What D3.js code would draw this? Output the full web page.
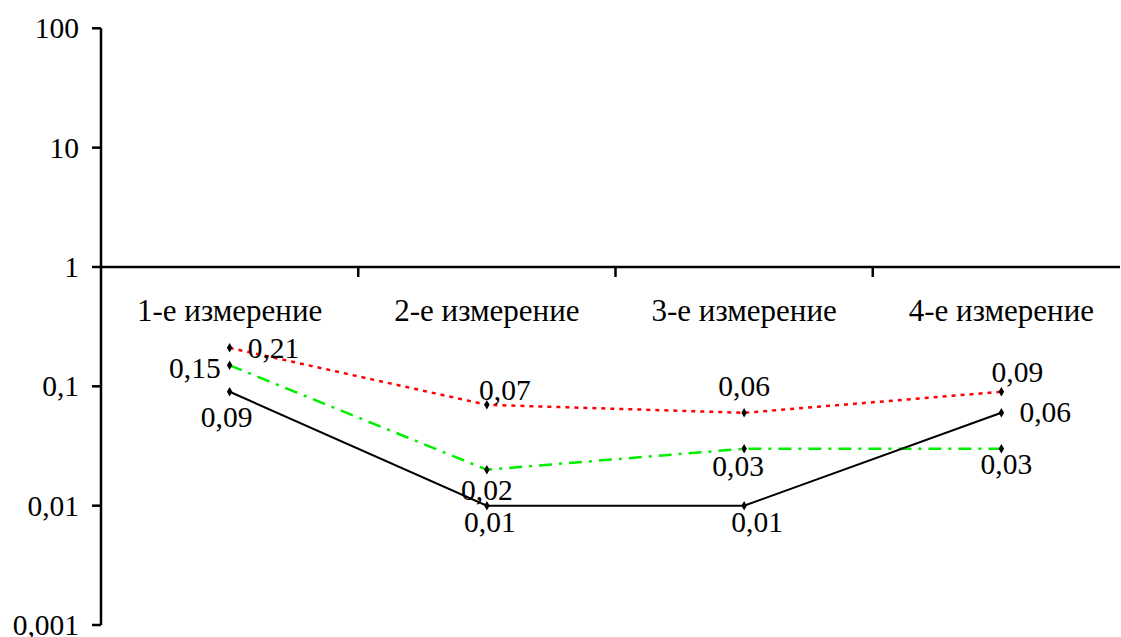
<!DOCTYPE html>
<html>
<head>
<meta charset="utf-8">
<script src="https://cdn.jsdelivr.net/npm/d3@7"></script>
<style>
  body { margin: 0; background: #fff; }
  svg text { font-family: "Times New Roman", "Liberation Serif", Times, serif; font-size: 29.5px; fill: #000; }
  svg text.cat { font-size: 31px; }
</style>
</head>
<body>
<div id="chart"></div>
<script>
//data
var categories = ["1-е измерение", "2-е измерение", "3-е измерение", "4-е измерение"];
var seriesRed = [0.21, 0.07, 0.06, 0.09];
var seriesGreen = [0.15, 0.02, 0.03, 0.03];
var seriesBlack = [0.09, 0.01, 0.01, 0.06];
var yTicks = [0.001, 0.01, 0.1, 1, 10, 100];
var yTickLabels = ["0,001", "0,01", "0,1", "1", "10", "100"];

//label placement for each point [dx, dy, anchor]
var redLabelPos = [[18, 10, "start"], [18, -5, "middle"], [0, -17, "middle"], [16, -10, "middle"]];
var greenLabelPos = [[-9, 13, "end"], [0, 30, "middle"], [-6, 27, "middle"], [5, 25, "middle"]];
var blackLabelPos = [[-3, 35, "middle"], [3, 26, "middle"], [13, 26, "middle"], [18, 9, "start"]];

var W = 1121, H = 637;
var axisX = 101;

var svg = d3.select("#chart").append("svg")
	.attr("width", W)
	.attr("height", H);

var x = d3.scaleBand().domain(categories).range([axisX, 1130]);
var y = d3.scaleLog().domain([0.001, 100]).range([625, 28.3]);

function fmt(v) { return String(v).replace(".", ","); }

//y axis
svg.append("line")
	.attr("x1", axisX).attr("x2", axisX)
	.attr("y1", y(100)).attr("y2", y(0.001))
	.attr("stroke", "#000").attr("stroke-width", 2.5);

svg.selectAll(".ytick").data(yTicks).enter().append("line")
	.attr("x1", axisX - 9).attr("x2", axisX)
	.attr("y1", function(d) { return y(d); })
	.attr("y2", function(d) { return y(d); })
	.attr("stroke", "#000").attr("stroke-width", 2.5);

svg.selectAll(".ylab").data(yTicks).enter().append("text")
	.attr("x", 79)
	.attr("y", function(d) { return y(d) + 10; })
	.attr("text-anchor", "end")
	.text(function(d, i) { return yTickLabels[i]; });

//x axis crosses at 1
svg.append("line")
	.attr("x1", axisX).attr("x2", 1120)
	.attr("y1", y(1)).attr("y2", y(1))
	.attr("stroke", "#000").attr("stroke-width", 2.5);

svg.selectAll(".xtick").data(categories.slice(1)).enter().append("line")
	.attr("x1", function(d) { return x(d); })
	.attr("x2", function(d) { return x(d); })
	.attr("y1", y(1)).attr("y2", y(1) + 10)
	.attr("stroke", "#000").attr("stroke-width", 2.5);

svg.selectAll(".xlab").data(categories).enter().append("text")
	.attr("class", "cat")
	.attr("x", function(d) { return x(d) + x.bandwidth() / 2; })
	.attr("y", 321)
	.attr("text-anchor", "middle")
	.text(function(d) { return d; });

//series
var series = [
	{ values: seriesRed, color: "#ff0000", dash: "4,5", width: 2.5, labels: redLabelPos },
	{ values: seriesGreen, color: "#00ee00", dash: "13,7,3,7", width: 2.5, labels: greenLabelPos },
	{ values: seriesBlack, color: "#000", dash: null, width: 2, labels: blackLabelPos }
];

var line = d3.line()
	.x(function(d, i) { return x(categories[i]) + x.bandwidth() / 2; })
	.y(function(d) { return y(d); });

series.forEach(function(s) {
	svg.append("path")
		.datum(s.values)
		.attr("d", line)
		.attr("fill", "none")
		.attr("stroke", s.color)
		.attr("stroke-width", s.width)
		.attr("stroke-dasharray", s.dash);
});

series.forEach(function(s) {
	var g = svg.append("g");
	g.selectAll("path").data(s.values).enter().append("path")
		.attr("d", d3.symbol().type(d3.symbolDiamond).size(26))
		.attr("transform", function(d, i) {
			return "translate(" + (x(categories[i]) + x.bandwidth() / 2) + "," + y(d) + ")";
		})
		.attr("fill", "#000");
	g.selectAll("text").data(s.values).enter().append("text")
		.attr("x", function(d, i) { return x(categories[i]) + x.bandwidth() / 2 + s.labels[i][0]; })
		.attr("y", function(d, i) { return y(d) + s.labels[i][1]; })
		.attr("text-anchor", function(d, i) { return s.labels[i][2]; })
		.text(function(d) { return fmt(d); });
});
</script>
</body>
</html>
